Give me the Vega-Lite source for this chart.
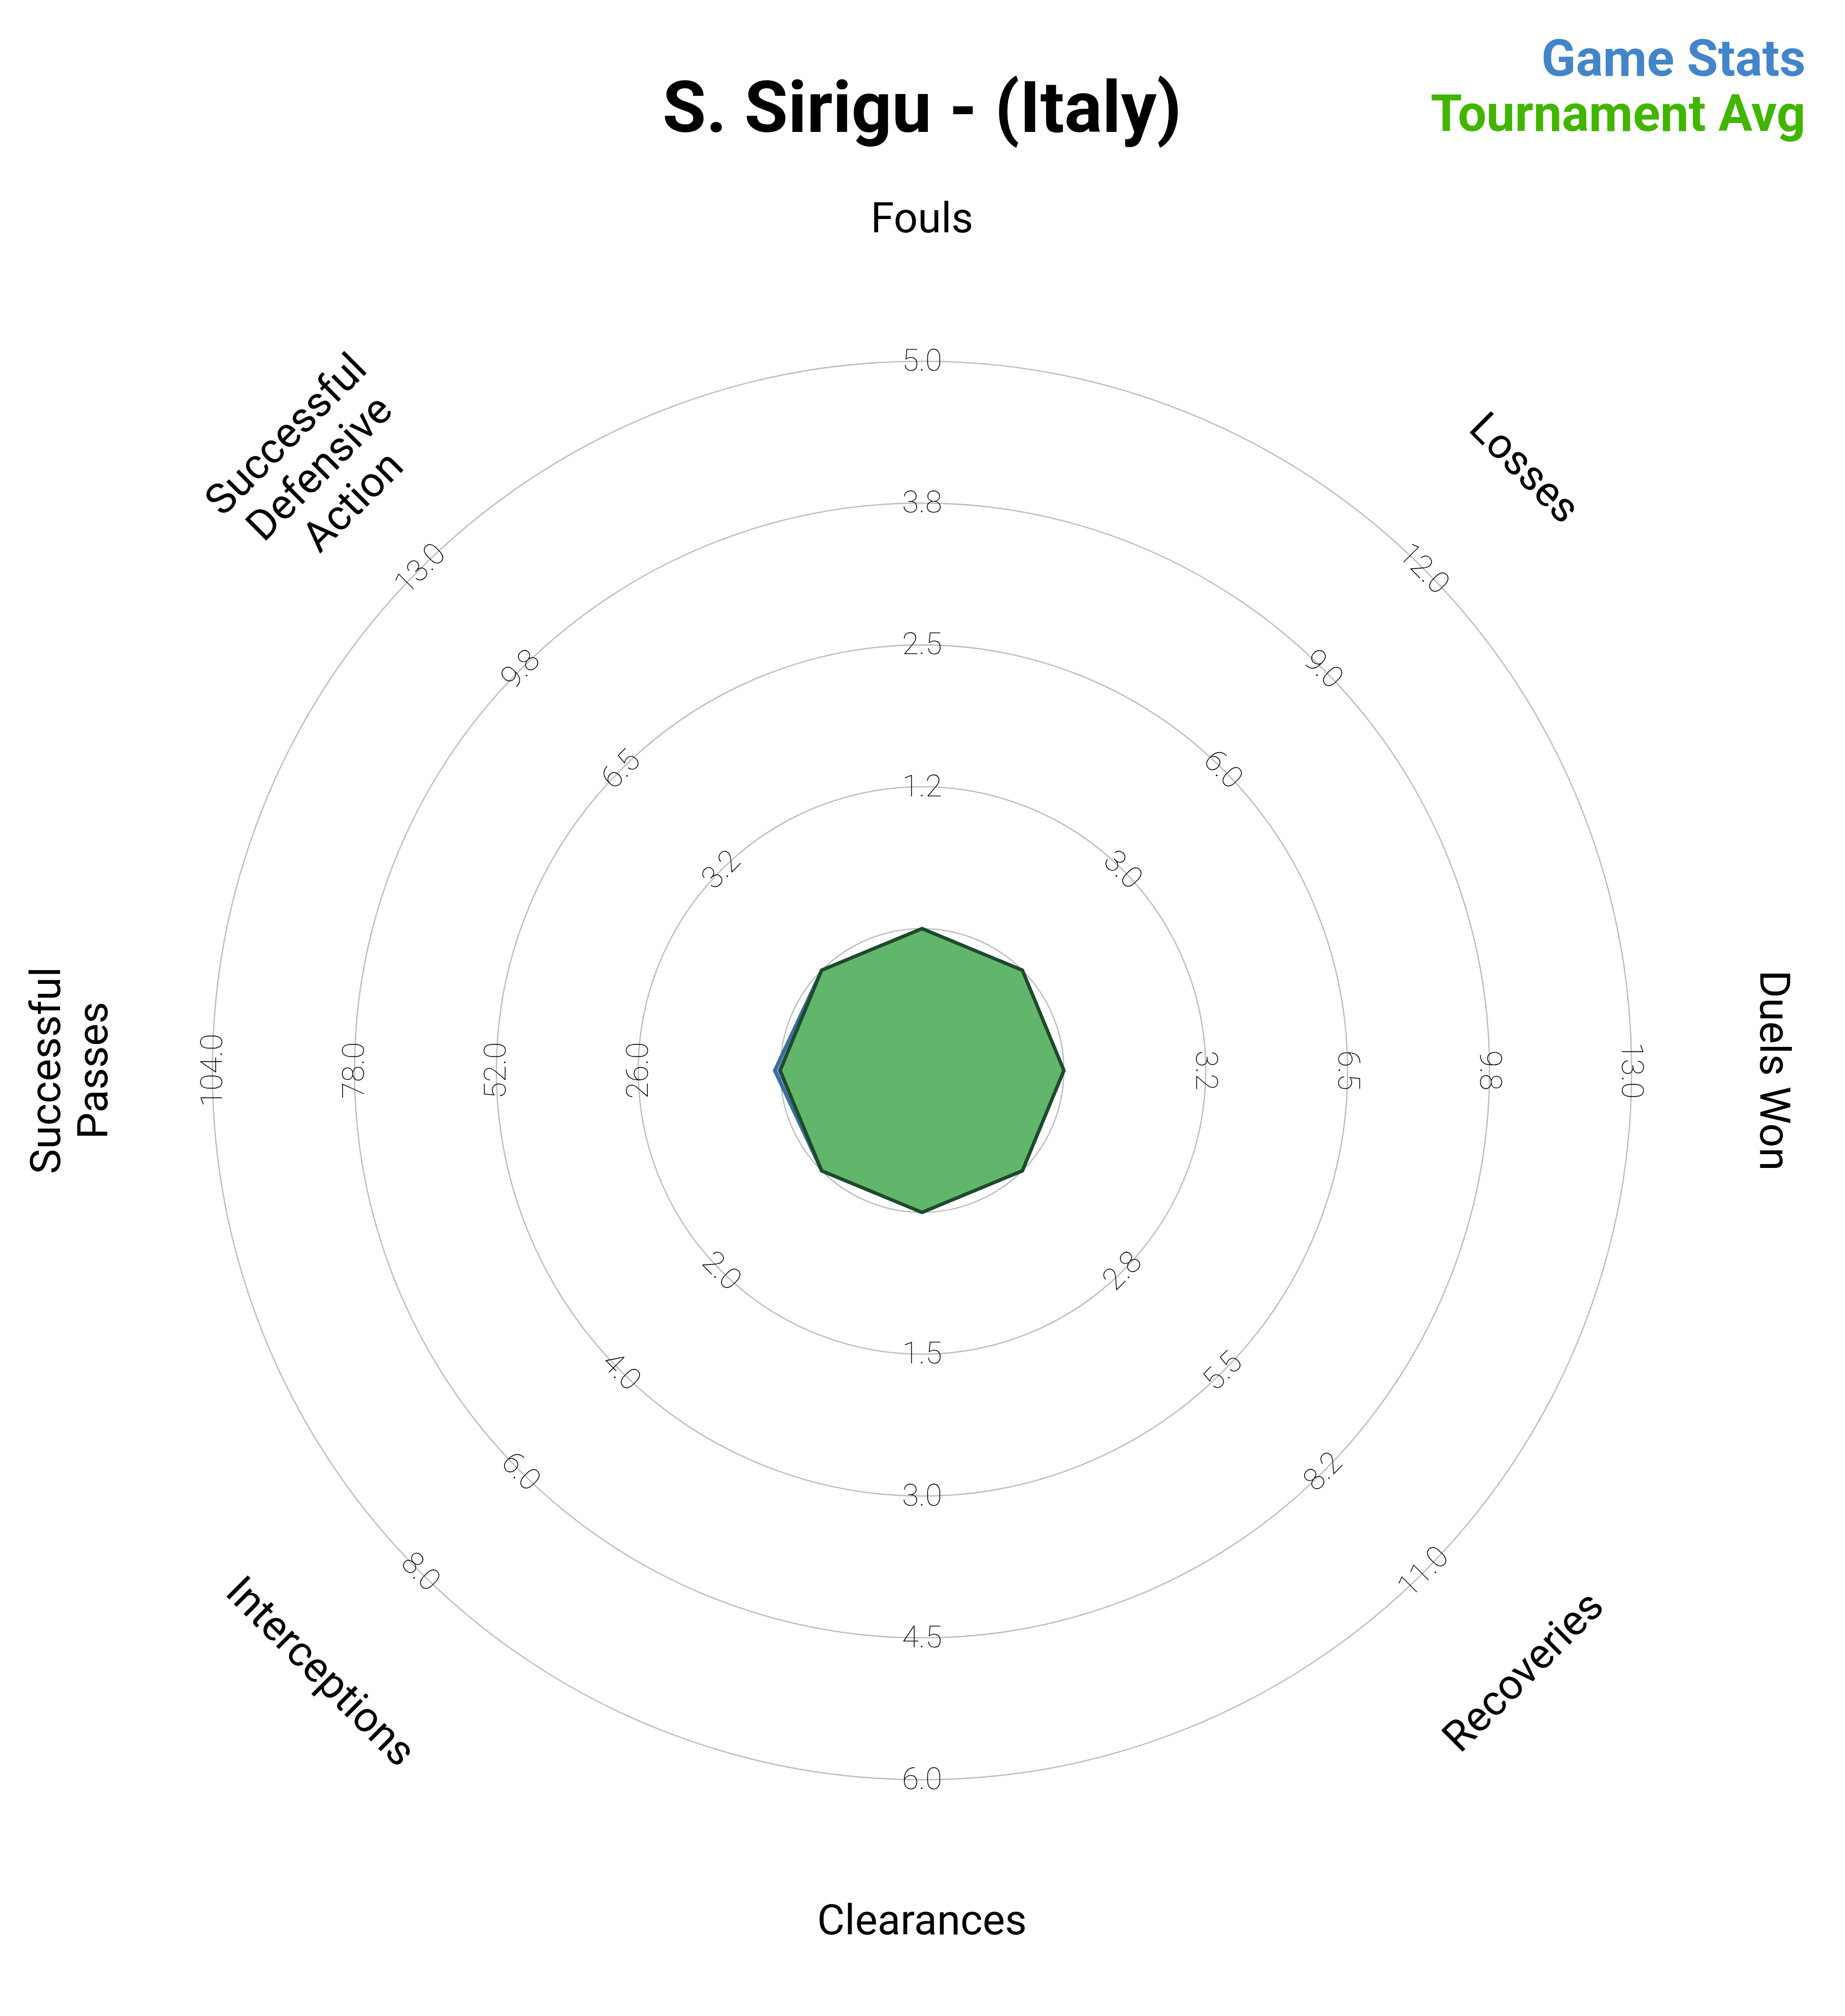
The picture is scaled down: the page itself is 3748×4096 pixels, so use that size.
{
  "$schema": "https://vega.github.io/schema/vega-lite/v6.json",
  "width": 3748,
  "height": 4096,
  "autosize": {"type": "none"},
  "padding": 0,
  "background": "white",
  "config": {"view": {"stroke": null}, "font": "Roboto"},
  "datasets": {
    "params": [
      {"param": "Fouls", "label": "Fouls", "max": 5, "game": 0, "avg": 0, "t2": "1.2", "t3": "2.5", "t4": "3.8", "t5": "5.0"},
      {"param": "Losses", "label": "Losses", "max": 12, "game": 0, "avg": 0, "t2": "3.0", "t3": "6.0", "t4": "9.0", "t5": "12.0"},
      {"param": "Duels Won", "label": "Duels Won", "max": 13, "game": 0, "avg": 0, "t2": "3.2", "t3": "6.5", "t4": "9.8", "t5": "13.0"},
      {"param": "Recoveries", "label": "Recoveries", "max": 11, "game": 0, "avg": 0, "t2": "2.8", "t3": "5.5", "t4": "8.2", "t5": "11.0"},
      {"param": "Clearances", "label": "Clearances", "max": 6, "game": 0, "avg": 0, "t2": "1.5", "t3": "3.0", "t4": "4.5", "t5": "6.0"},
      {"param": "Interceptions", "label": "Interceptions", "max": 8, "game": 0, "avg": 0, "t2": "2.0", "t3": "4.0", "t4": "6.0", "t5": "8.0"},
      {"param": "Successful Passes", "label": "Successful\nPasses", "max": 104, "game": 1, "avg": 0, "t2": "26.0", "t3": "52.0", "t4": "78.0", "t5": "104.0"},
      {"param": "Successful Defensive Action", "label": "Successful\nDefensive\nAction", "max": 13, "game": 0, "avg": 0, "t2": "3.2", "t3": "6.5", "t4": "9.8", "t5": "13.0"}
    ],
    "rings": [{"ring": 1}, {"ring": 2}, {"ring": 3}, {"ring": 4}, {"ring": 5}]
  },
  "layer": [
    {
      "data": {"name": "rings"},
      "mark": {"type": "arc", "filled": false, "stroke": "#bdbdbd", "strokeWidth": 2.6, "theta": 0, "theta2": 6.2832},
      "encoding": {
        "x": {"datum": 0, "type": "quantitative", "scale": {"domain": [-6.499, 6.506], "nice": false, "zero": false}, "axis": null},
        "y": {"datum": 0, "type": "quantitative", "scale": {"domain": [-6.666, 7.547], "nice": false, "zero": false}, "axis": null},
        "radius": {"field": "ring", "type": "quantitative", "stack": null, "scale": {"type": "linear", "domain": [0, 5], "range": [0, 1441], "zero": true}, "legend": null}
      }
    },
    {
      "data": {"name": "params"},
      "transform": [
        {"window": [{"op": "row_number", "as": "rn"}]},
        {"calculate": "(datum.rn-1)*PI/4", "as": "a"},
        {"calculate": "1+4*datum.game/datum.max", "as": "r"},
        {"calculate": "datum.r*sin(datum.a)", "as": "px"},
        {"calculate": "datum.r*cos(datum.a)", "as": "py"}
      ],
      "mark": {"type": "line", "interpolate": "linear-closed", "fill": "#4a86c5", "fillOpacity": 0.85, "stroke": "#3b6e9e", "strokeWidth": 7},
      "encoding": {
        "x": {"field": "px", "type": "quantitative", "scale": {"domain": [-6.499, 6.506], "nice": false, "zero": false}, "axis": null},
        "y": {"field": "py", "type": "quantitative", "scale": {"domain": [-6.666, 7.547], "nice": false, "zero": false}, "axis": null},
        "order": {"field": "rn", "type": "quantitative"}
      }
    },
    {
      "data": {"name": "params"},
      "transform": [
        {"window": [{"op": "row_number", "as": "rn"}]},
        {"calculate": "(datum.rn-1)*PI/4", "as": "a"},
        {"calculate": "1+4*datum.avg/datum.max", "as": "r"},
        {"calculate": "datum.r*sin(datum.a)", "as": "px"},
        {"calculate": "datum.r*cos(datum.a)", "as": "py"}
      ],
      "mark": {"type": "line", "interpolate": "linear-closed", "fill": "#62b66c", "fillOpacity": 1, "stroke": "#1f4a2a", "strokeWidth": 7},
      "encoding": {
        "x": {"field": "px", "type": "quantitative", "axis": null},
        "y": {"field": "py", "type": "quantitative", "axis": null},
        "order": {"field": "rn", "type": "quantitative"}
      }
    },
    {
      "data": {"name": "params"},
      "transform": [
        {"window": [{"op": "row_number", "as": "rn"}]},
        {"calculate": "(datum.rn-1)*PI/4", "as": "a"},
        {"calculate": "(datum.rn-1)*45", "as": "deg"},
        {"calculate": "datum.deg<=90 ? datum.deg : (datum.deg<270 ? datum.deg-180 : datum.deg-360)", "as": "rot"},
        {"fold": ["t2", "t3", "t4", "t5"], "as": ["key", "tick"]},
        {"calculate": "toNumber(slice(datum.key,1))", "as": "r"},
        {"calculate": "datum.r*sin(datum.a)", "as": "px"},
        {"calculate": "datum.r*cos(datum.a)", "as": "py"}
      ],
      "mark": {"type": "text", "font": "Roboto", "fontWeight": 100, "fontSize": 62, "color": "#000000", "align": "center", "baseline": "middle"},
      "encoding": {
        "x": {"field": "px", "type": "quantitative", "axis": null},
        "y": {"field": "py", "type": "quantitative", "axis": null},
        "text": {"field": "tick"},
        "angle": {"field": "rot", "type": "quantitative", "scale": null}
      }
    },
    {
      "data": {"name": "params"},
      "transform": [
        {"window": [{"op": "row_number", "as": "rn"}]},
        {"calculate": "(datum.rn-1)*PI/4", "as": "a"},
        {"calculate": "(datum.rn-1)*45", "as": "deg"},
        {"calculate": "datum.deg<=90 ? datum.deg : (datum.deg<270 ? datum.deg-180 : datum.deg-360)", "as": "rot"},
        {"calculate": "6 + (length(split(datum.label, '\\n')) - 1) * 0.1666", "as": "r"},
        {"calculate": "datum.r*sin(datum.a)", "as": "px"},
        {"calculate": "datum.r*cos(datum.a)", "as": "py"}
      ],
      "mark": {"type": "text", "font": "Roboto", "fontSize": 86, "color": "#000000", "align": "center", "baseline": "middle", "lineBreak": "\n", "lineHeight": 96},
      "encoding": {
        "x": {"field": "px", "type": "quantitative", "axis": null},
        "y": {"field": "py", "type": "quantitative", "axis": null},
        "text": {"field": "label"},
        "angle": {"field": "rot", "type": "quantitative", "scale": null}
      }
    },
    {
      "data": {"values": [{"t": "S. Sirigu - (Italy)"}]},
      "mark": {"type": "text", "font": "Roboto", "fontWeight": "bold", "fontSize": 144, "color": "#000000", "align": "center", "baseline": "alphabetic"},
      "encoding": {
        "x": {"datum": 0, "type": "quantitative", "axis": null},
        "y": {"datum": 6.617, "type": "quantitative", "axis": null},
        "text": {"field": "t"}
      }
    },
    {
      "data": {"values": [{"t": "Game Stats"}]},
      "mark": {"type": "text", "font": "Roboto", "fontWeight": "bold", "fontSize": 103, "color": "#4285c8", "align": "right", "baseline": "alphabetic"},
      "encoding": {
        "x": {"datum": 6.228, "type": "quantitative", "axis": null},
        "y": {"datum": 7.012, "type": "quantitative", "axis": null},
        "text": {"field": "t"}
      }
    },
    {
      "data": {"values": [{"t": "Tournament Avg"}]},
      "mark": {"type": "text", "font": "Roboto", "fontWeight": "bold", "fontSize": 103, "color": "#41b500", "align": "right", "baseline": "alphabetic"},
      "encoding": {
        "x": {"datum": 6.228, "type": "quantitative", "axis": null},
        "y": {"datum": 6.624, "type": "quantitative", "axis": null},
        "text": {"field": "t"}
      }
    }
  ]
}
